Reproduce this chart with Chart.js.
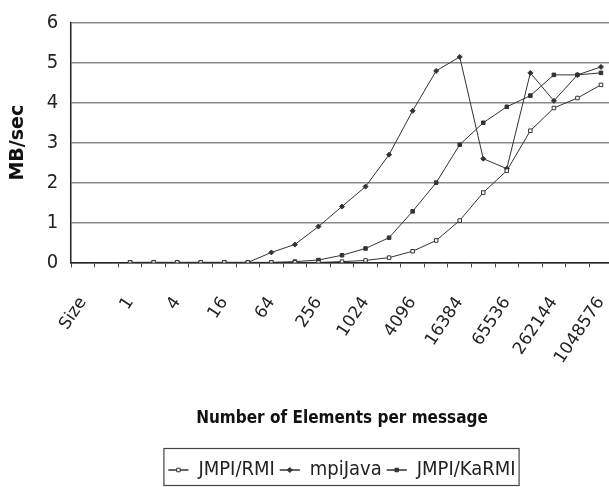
<!DOCTYPE html>
<html>
<head>
<meta charset="utf-8">
<script src="https://cdn.jsdelivr.net/npm/chart.js@4"></script>
<style>
  html, body { margin: 0; padding: 0; background: #fff; overflow: hidden; }
</style>
</head>
<body>
<canvas id="chart" width="644" height="487"></canvas>
<script>
// message sizes (number of elements); the second category has no label in the source
const sizes = ['Size', '', '1', '2', '4', '8', '16', '32', '64', '128', '256', '512', '1024',
  '2048', '4096', '8192', '16384', '32768', '65536', '131072', '262144', '524288', '1048576'];

// MB/sec, from size 1 up to 1048576
const jmpiRmi   = [0, 0, 0, 0, 0, 0, 0, 0, 0, 0.02, 0.05, 0.12, 0.28, 0.55, 1.05, 1.75, 2.3, 3.3, 3.87, 4.12, 4.45];
const mpiJava   = [0, 0, 0, 0, 0, 0, 0.25, 0.45, 0.9, 1.4, 1.9, 2.7, 3.8, 4.8, 5.15, 2.6, 2.35, 4.75, 4.05, 4.7, 4.9];
const jmpiKarmi = [0, 0, 0, 0, 0, 0, 0, 0.02, 0.06, 0.18, 0.35, 0.62, 1.28, 2.0, 2.95, 3.5, 3.9, 4.18, 4.7, 4.7, 4.75];

const yMin = 0, yMax = 6, yStep = 1;

const narrow = "'DejaVu Sans Condensed', 'Liberation Sans Narrow', sans-serif";
const wide = "'DejaVu Sans', sans-serif";
const lead = sizes.length - jmpiRmi.length;
const pad = arr => Array(lead).fill(null).concat(arr);

function series(label, values, style, fill) {
  return {
    label: label,
    data: pad(values),
    borderColor: '#333',
    backgroundColor: fill,
    borderWidth: 1,
    pointStyle: style,
    pointRadius: 2.5,
    pointBorderWidth: 1,
    pointBackgroundColor: fill,
    pointBorderColor: '#333',
    tension: 0
  };
}

// draws the little marker on each legend line and a frame round the legend
const legendFrame = {
  id: 'legendFrame',
  afterDraw(chart) {
    const lg = chart.legend;
    const boxes = lg.legendHitBoxes;
    if (!boxes || !boxes.length) return;
    const ctx = chart.ctx;
    const bw = lg.options.labels.boxWidth;
    ctx.save();
    chart.data.datasets.forEach((ds, i) => {
      const b = boxes[i];
      ctx.fillStyle = ds.pointBackgroundColor;
      ctx.strokeStyle = ds.pointBorderColor;
      ctx.lineWidth = 1;
      Chart.helpers.drawPoint(ctx, { pointStyle: ds.pointStyle, radius: ds.pointRadius, borderWidth: 1, rotation: 0 },
        b.left + bw / 2, b.top + b.height / 2);
    });
    const left = Math.min(...boxes.map(b => b.left)) - 5;
    const right = Math.max(...boxes.map(b => b.left + b.width)) + 3;
    const top = boxes[0].top - 12;
    const h = boxes[0].height + 17;
    ctx.strokeStyle = '#444';
    ctx.lineWidth = 1.2;
    ctx.strokeRect(left + 0.5, top + 0.5, right - left, h);
    ctx.restore();
  }
};

new Chart(document.getElementById('chart').getContext('2d'), {
  type: 'line',
  data: {
    labels: sizes,
    datasets: [
      series('JMPI/RMI', jmpiRmi, 'rect', '#fff'),
      series('mpiJava', mpiJava, 'rectRot', '#333'),
      series('JMPI/KaRMI', jmpiKarmi, 'rect', '#333')
    ]
  },
  options: {
    responsive: false,
    animation: false,
    layout: { padding: { left: 7, right: 0, top: 0, bottom: -3 } },
    plugins: {
      tooltip: { enabled: false },
      legend: {
        position: 'bottom',
        fullSize: false,
        labels: {
          font: { family: narrow, size: 20 },
          color: '#222',
          boxWidth: 20,
          boxHeight: 0,
          padding: 5
        }
      }
    },
    scales: {
      x: {
        offset: true,
        grid: { display: true, drawOnChartArea: false, drawTicks: true, tickLength: 5, color: '#444', offset: true },
        border: { color: '#222', width: 1.5 },
        ticks: {
          autoSkip: false,
          maxRotation: 56,
          minRotation: 56,
          padding: 26,
          color: '#222',
          font: { family: wide, size: 17 },
          callback: function (v, i) { return i % 2 === 0 ? this.getLabelForValue(v) : ''; }
        },
        title: {
          display: true,
          text: 'Number of Elements per message',
          color: '#111',
          font: { family: narrow, size: 17, weight: 'bold' },
          padding: { top: 15, bottom: 26 }
        }
      },
      y: {
        min: yMin,
        max: yMax,
        ticks: { stepSize: yStep, padding: 13, color: '#222', font: { family: narrow, size: 20, lineHeight: 1.0 } },
        grid: { color: '#8a8a8a', lineWidth: 1.6, drawTicks: false },
        border: { color: '#222', width: 1.5 },
        title: {
          display: true,
          text: 'MB/sec',
          color: '#111',
          font: { family: wide, size: 19, weight: 'bold' },
          padding: { top: 0, bottom: 4 }
        }
      }
    }
  },
  plugins: [legendFrame]
});
</script>
</body>
</html>
